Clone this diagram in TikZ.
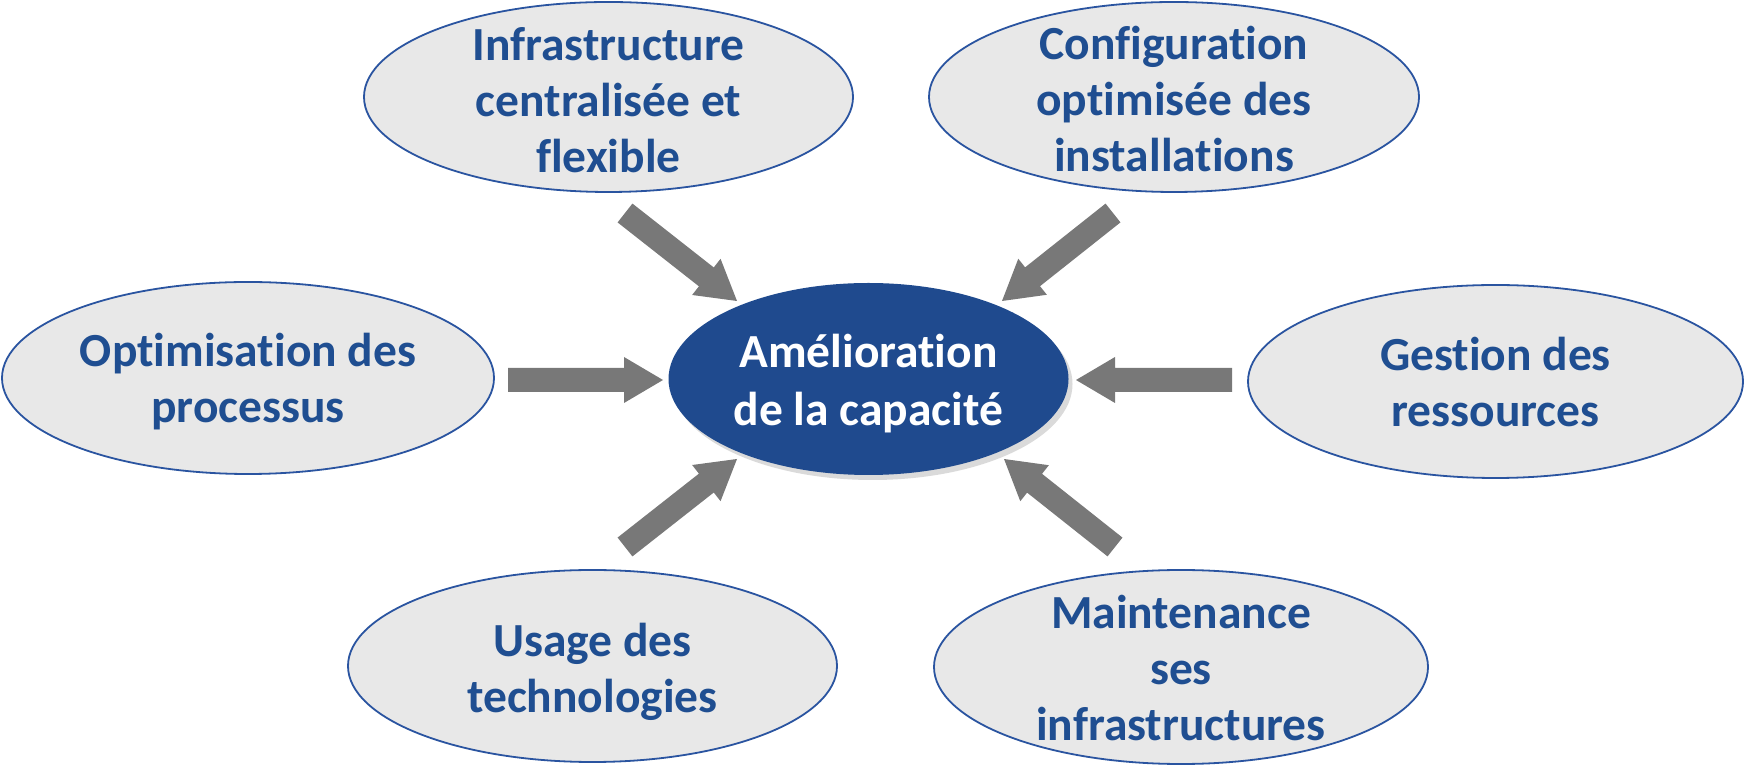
\documentclass[tikz,border=0pt]{standalone}
\usepackage{fontspec}
\setmainfont{Carlito}[Ligatures=NoCommon]
\usetikzlibrary{shapes.geometric,shadows,calc}

\definecolor{txtblue}{HTML}{1F4E91}
\definecolor{rimblue}{HTML}{2A54A0}
\definecolor{corefill}{HTML}{1F4A8E}
\definecolor{bubblefill}{HTML}{E8E8E8}
\definecolor{arrowfill}{HTML}{787878}
\definecolor{shadowgray}{HTML}{DADADA}

% block arrow from #1 to #2: shaft half-width, head half-width, head length
\newcommand\blockarrow[2]{%
  \fill[arrowfill] let \p1=(#1), \p2=(#2),
      \n1={atan2(\y2-\y1,\x2-\x1)}, \n2={veclen(\x2-\x1,\y2-\y1)} in
    [shift={(\p1)}, rotate=\n1]
    (0,-12) -- (\n2-39pt,-12) -- (\n2-39pt,-23) -- (\n2,0) --
    (\n2-39pt,23) -- (\n2-39pt,12) -- (0,12) -- cycle;}

\begin{document}
\begin{tikzpicture}[x=1pt,y=1pt,
  bubble/.style={ellipse, draw=rimblue, line width=1.8pt, fill=bubblefill,
    inner sep=0pt},
  bubbletext/.style={inner sep=0pt, align=center, text=txtblue,
    font=\fontsize{47.5}{56}\selectfont\bfseries},
  core/.style={ellipse, fill=corefill, inner sep=0pt,
    minimum width=400pt, minimum height=192pt,
    drop shadow={shadow xshift=4pt, shadow yshift=-5pt, fill=shadowgray, opacity=1}},
  coretext/.style={inner sep=0pt, align=center, text=white,
    font=\fontsize{47.5}{58}\selectfont\bfseries}]
\useasboundingbox (0,0) rectangle (1744,765);

% central goal
\node[core] (c) at (868.5,386) {};
\node[coretext, yshift=-5pt] (ct) at (c) {Amélioration\\de la capacité};

% surrounding factors
\node[bubble, minimum width=489pt, minimum height=190pt] (tl) at (608.5,668) {};
\node[bubbletext, yshift=-3pt] (tlt) at (tl) {Infrastructure\\centralisée et\\flexible};
\node[bubble, minimum width=490pt, minimum height=190pt] (tr) at (1174,668) {};
\node[bubbletext, yshift=-2pt] (trt) at (tr) {Configuration\\optimisée des\\installations};
\node[bubble, minimum width=492pt, minimum height=192pt] (l) at (248,387) {};
\node[bubbletext, yshift=-4pt] (lt) at (l) {Optimisation des\\processus};
\node[bubble, minimum width=495pt, minimum height=193pt] (r) at (1495.5,383.5) {};
\node[bubbletext, yshift=-1pt] (rt) at (r) {Gestion des\\ressources};
\node[bubble, minimum width=489pt, minimum height=192pt] (bl) at (592.5,99) {};
\node[bubbletext, yshift=-6pt] (blt) at (bl) {Usage des\\technologies};
\node[bubble, minimum width=494pt, minimum height=194pt] (br) at (1181,98) {};
\node[bubbletext, yshift=-1pt] (brt) at (br) {Maintenance\\ses\\infrastructures};

% arrow ends
\coordinate (tls) at (625,552);  \coordinate (tle) at (737,464);
\coordinate (trs) at (1113,552); \coordinate (tre) at (1002,464);
\coordinate (ls)  at (508,385);  \coordinate (le)  at (663,385);
\coordinate (rs)  at (1232,385); \coordinate (re)  at (1076,385);
\coordinate (bls) at (625,218);  \coordinate (ble) at (737,306);
\coordinate (brs) at (1115,218); \coordinate (bre) at (1004,306);

\blockarrow{tls}{tle}
\blockarrow{trs}{tre}
\blockarrow{ls}{le}
\blockarrow{rs}{re}
\blockarrow{bls}{ble}
\blockarrow{brs}{bre}
\end{tikzpicture}
\end{document}
